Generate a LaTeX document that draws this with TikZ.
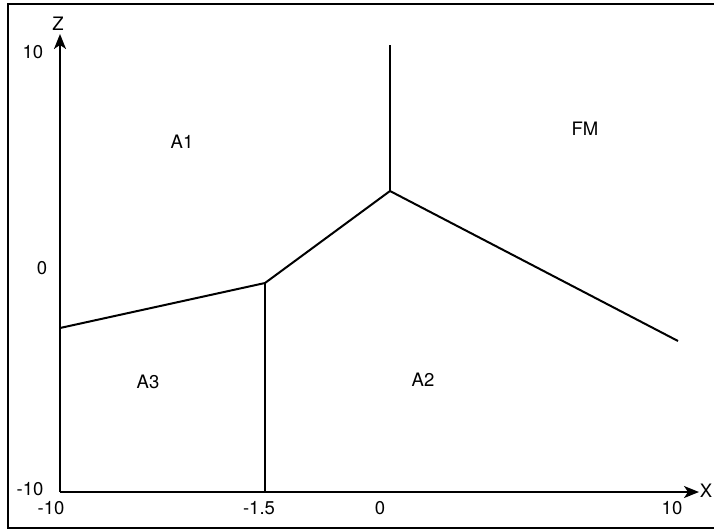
\documentclass[tikz,border=0pt]{standalone}
\usepackage{fontspec}
\setmainfont{TeX Gyre Heros}
\usetikzlibrary{arrows.meta}

\tikzset{
  lbl/.style={inner sep=0pt,font=\fontsize{18.5}{22}\selectfont},
  bnd/.style={line width=2pt,line join=miter},
  axis/.style={line width=2pt,-{Stealth[length=15pt,width=12pt,inset=4pt]}}
}

\begin{document}
\begin{tikzpicture}[x=1pt,y=-1pt]
\useasboundingbox (0,0) rectangle (714,531);
% frame
\draw[line width=2pt] (714,4)--(8,4)--(8,528)--(714,528);
% axes
\coordinate (O) at (60,492);
\coordinate (ztip) at (60,34);
\coordinate (xtip) at (699,492);
\draw[axis] (O)--(ztip);
\draw[axis] (O)--(xtip);
\node[lbl] (zname) at (58,24) {Z};
\node[lbl] (xname) at (706,491) {X};
% ticks
\node[lbl] (z10) at (33,52) {10};
\node[lbl] (z0) at (42,268) {0};
\node[lbl] (zm10) at (30,489) {-10};
\node[lbl] (xm10) at (51,508) {-10};
\node[lbl] (xm15) at (259,508) {-1.5};
\node[lbl] (x0) at (380,508) {0};
\node[lbl] (x10) at (672,508) {10};
% phase boundaries
\coordinate (p1) at (60,328);
\coordinate (p2) at (265,283);
\coordinate (p2b) at (265,492);
\coordinate (p3) at (390,191);
\coordinate (p3t) at (390,45);
\coordinate (p4) at (678,341);
\draw[bnd] (p1)--(p2)--(p3)--(p4);
\draw[bnd] (p2)--(p2b);
\draw[bnd] (p3)--(p3t);
% regions
\node[lbl] (A1) at (182,142) {A1};
\node[lbl] (FM) at (585,129) {FM};
\node[lbl] (A3) at (148,382) {A3};
\node[lbl] (A2) at (423,380) {A2};
\end{tikzpicture}
\end{document}
